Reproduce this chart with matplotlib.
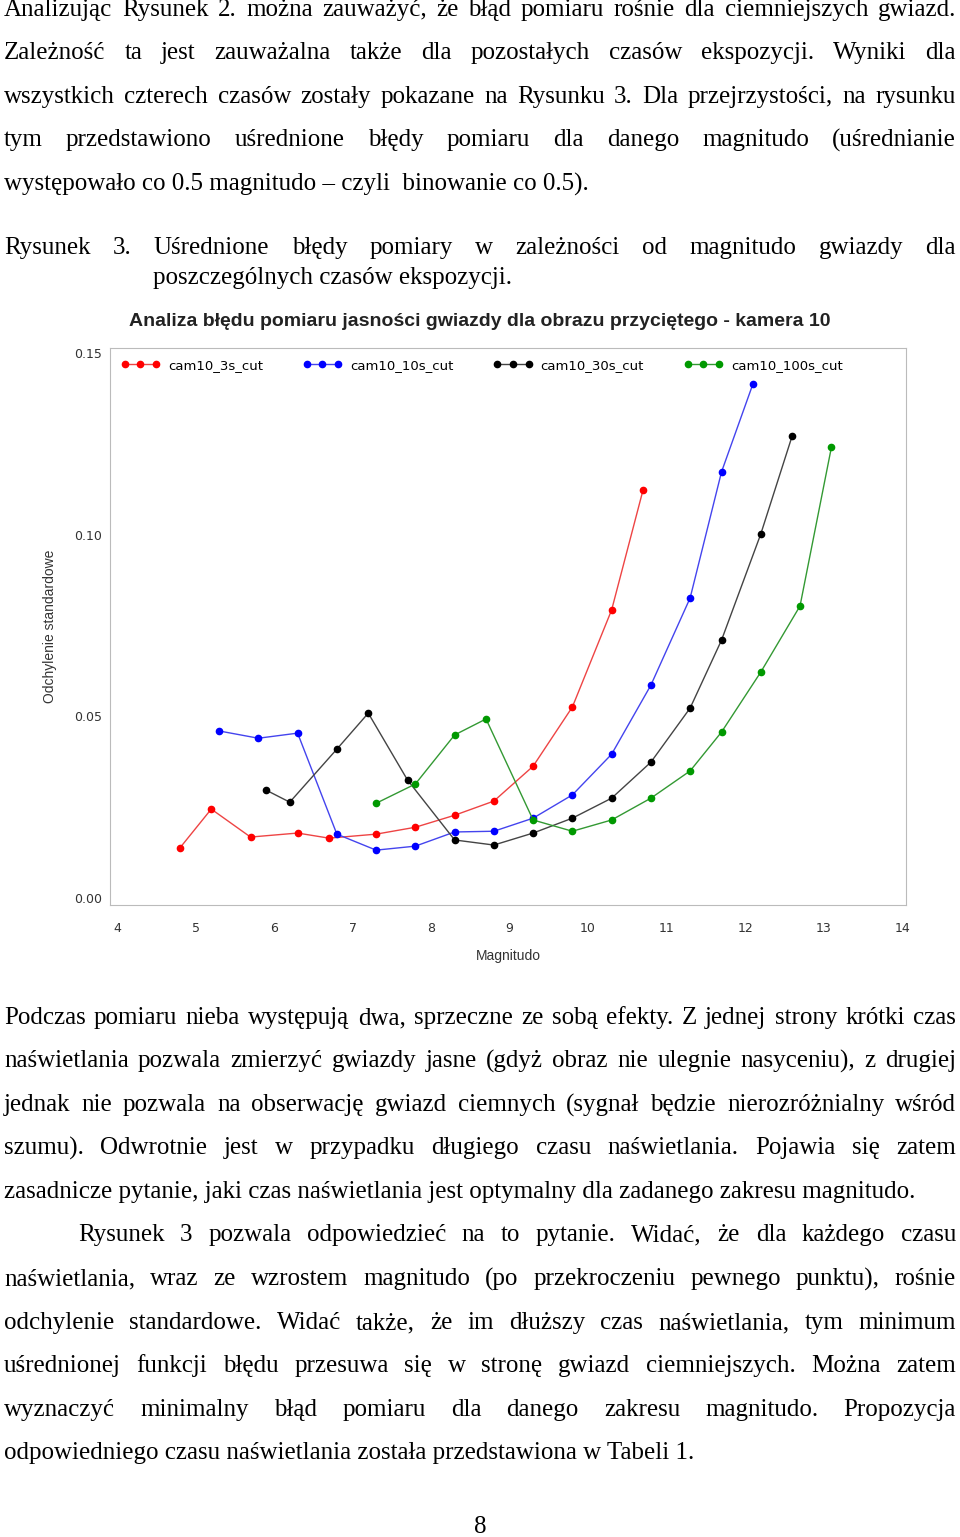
import matplotlib
matplotlib.use("Agg")
import matplotlib.pyplot as plt

red_x = [4.8, 5.2, 5.7, 6.3, 6.7, 7.3, 7.8, 8.3, 8.8, 9.3, 9.8, 10.3, 10.7]
red_y = [0.0138, 0.0245, 0.0168, 0.0179, 0.0165, 0.0176, 0.0195, 0.0228, 0.0267, 0.0363, 0.0526, 0.0793, 0.1123]
blue_x = [5.3, 5.8, 6.3, 6.8, 7.3, 7.8, 8.3, 8.8, 9.3, 9.8, 10.3, 10.8, 11.3, 11.7, 12.1]
blue_y = [0.046, 0.044, 0.0454, 0.0176, 0.0132, 0.0143, 0.0182, 0.0184, 0.022, 0.0284, 0.0396, 0.0586, 0.0826, 0.1173, 0.1415]
black_x = [5.9, 6.2, 6.8, 7.2, 7.7, 8.3, 8.8, 9.3, 9.8, 10.3, 10.8, 11.3, 11.7, 12.2, 12.6]
black_y = [0.0297, 0.0264, 0.041, 0.0509, 0.0325, 0.016, 0.0146, 0.0179, 0.022, 0.0275, 0.0374, 0.0523, 0.071, 0.1002, 0.1272]
green_x = [7.3, 7.8, 8.3, 8.7, 9.3, 9.8, 10.3, 10.8, 11.3, 11.7, 12.2, 12.7, 13.1]
green_y = [0.0261, 0.0314, 0.0449, 0.0493, 0.0215, 0.0184, 0.0215, 0.0275, 0.035, 0.0457, 0.0622, 0.0804, 0.1241]
series_names = ["cam10_3s_cut", "cam10_10s_cut", "cam10_30s_cut", "cam10_100s_cut"]
x_ticks = [4, 5, 6, 7, 8, 9, 10, 11, 12, 13, 14]
y_ticks = [0.00, 0.05, 0.10, 0.15]

W, H = 960, 1537
fig = plt.figure(figsize=(9.6, 15.37), dpi=100)
SERIF = "Liberation Serif"
FS = 18

lines = [
    ("Analizując Rysunek 2. można zauważyć, że błąd pomiaru rośnie dla ciemniejszych gwiazd.", 10, 4, 956),
    ("Zależność ta jest zauważalna także dla pozostałych czasów ekspozycji. Wyniki dla", 53, 4, 956),
    ("wszystkich czterech czasów zostały pokazane na Rysunku 3. Dla przejrzystości, na rysunku", 97, 4, 956),
    ("tym przedstawiono uśrednione błędy pomiaru dla danego magnitudo (uśrednianie", 140, 4, 956),
    ("występowało co 0.5 magnitudo – czyli  binowanie co 0.5).", 184, 4, None),
    ("Rysunek 3. Uśrednione błędy pomiary w zależności od magnitudo gwiazdy dla", 248, 4, 956),
    ("poszczególnych czasów ekspozycji.", 278, 153, None),
    ("Podczas pomiaru nieba występują dwa, sprzeczne ze sobą efekty. Z jednej strony krótki czas", 1018, 4, 956),
    ("naświetlania pozwala zmierzyć gwiazdy jasne (gdyż obraz nie ulegnie nasyceniu), z drugiej", 1061, 4, 956),
    ("jednak nie pozwala na obserwację gwiazd ciemnych (sygnał będzie nierozróżnialny wśród", 1105, 4, 956),
    ("szumu). Odwrotnie jest w przypadku długiego czasu naświetlania. Pojawia się zatem", 1148, 4, 956),
    ("zasadnicze pytanie, jaki czas naświetlania jest optymalny dla zadanego zakresu magnitudo.", 1192, 4, None),
    ("Rysunek 3 pozwala odpowiedzieć na to pytanie. Widać, że dla każdego czasu", 1235, 78, 956),
    ("naświetlania, wraz ze wzrostem magnitudo (po przekroczeniu pewnego punktu), rośnie", 1279, 4, 956),
    ("odchylenie standardowe. Widać także, że im dłuższy czas naświetlania, tym minimum", 1323, 4, 956),
    ("uśrednionej funkcji błędu przesuwa się w stronę gwiazd ciemniejszych. Można zatem", 1366, 4, 956),
    ("wyznaczyć minimalny błąd pomiaru dla danego zakresu magnitudo. Propozycja", 1410, 4, 956),
    ("odpowiedniego czasu naświetlania została przedstawiona w Tabeli 1.", 1453, 4, None),
]

renderer = fig.canvas.get_renderer()
for txt, yp, xl, xr in lines:
    yf = 1 - yp / H
    if xr is None:
        fig.text(xl / W, yf, txt, fontsize=FS, family=SERIF, va="center", ha="left")
        continue
    words = txt.split()
    objs = [fig.text(0, yf, w, fontsize=FS, family=SERIF, va="center", ha="left") for w in words]
    widths = [o.get_window_extent(renderer).width for o in objs]
    gap = (xr - xl - sum(widths)) / max(len(words) - 1, 1)
    x = xl
    for o, w in zip(objs, widths):
        o.set_x(x / W)
        x += w + gap

fig.text(480 / W, 1 - 1527 / H, "8", fontsize=FS, family=SERIF, ha="center", va="center")

fig.text(480 / W, 1 - 321 / H, "Analiza błędu pomiaru jasności gwiazdy dla obrazu przyciętego - kamera 10",
         fontsize=14, family="Liberation Sans", weight="bold", ha="center", va="center", color="#222222")

ax = fig.add_axes([110 / W, 1 - 905 / H, 796 / W, 557 / H])
cols = ["#ff0000", "#0000ff", "#000000", "#009900"]
lcols = ["#ee4444", "#4444ee", "#444444", "#339933"]
for (xs, ys), c, lc, n in zip([(red_x, red_y), (blue_x, blue_y), (black_x, black_y), (green_x, green_y)],
                              cols, lcols, series_names):
    ax.plot(xs, ys, color=lc, lw=1, marker="o", ms=4.5, mfc=c, mec=c, label=n)
ax.set_xlim(3.91, 14.05)
ax.set_ylim(-0.0019, 0.1514)
ax.set_xticks(x_ticks)
ax.set_yticks(y_ticks)
ax.set_xticklabels([str(t) for t in x_ticks])
ax.set_yticklabels([f"{t:.2f}" for t in y_ticks])
ax.tick_params(labelsize=9, colors="#333333", length=0)
ax.tick_params(axis="y", pad=6)
ax.tick_params(axis="x", pad=12)
for s in ax.spines.values():
    s.set_color("#bbbbbb")
ax.set_xlabel("Magnitudo", fontsize=10, family="Liberation Sans", color="#333333", labelpad=10)
ax.set_ylabel("Odchylenie standardowe", fontsize=10, family="Liberation Sans", color="#333333", labelpad=12)
ax.legend(loc="upper left", ncol=4, frameon=False, fontsize=9.5, handlelength=3.0, numpoints=3,
          columnspacing=3.0, handletextpad=0.6, bbox_to_anchor=(0.0, 1.0), borderaxespad=0.4)

fig.savefig("out.png", dpi=100)
